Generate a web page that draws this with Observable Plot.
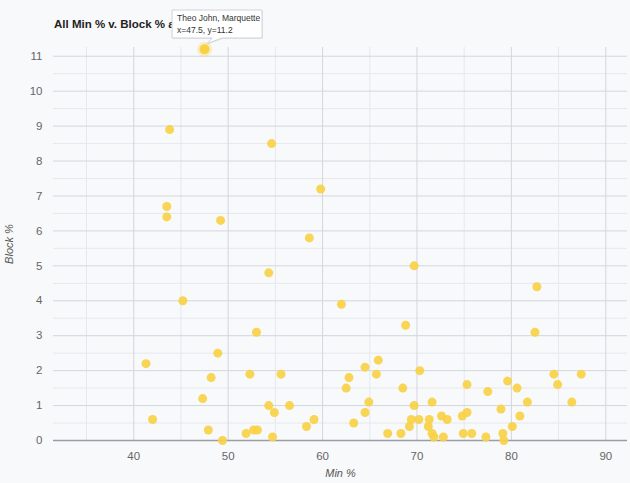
<!DOCTYPE html>
<html>
<head>
<meta charset="utf-8">
<script src="https://cdn.jsdelivr.net/npm/d3@7"></script>
<script src="https://cdn.jsdelivr.net/npm/@observablehq/plot@0.6"></script>
<style>
  html, body { margin: 0; padding: 0; background: #f8f9fb; }
  #wrap { position: relative; width: 630px; height: 483px; background: #f8f9fb; font-family: "Liberation Sans", Arial, sans-serif; }
  #title { position: absolute; left: 54px; top: 18px; font-size: 11.5px; font-weight: bold; color: #222; z-index: 0; }
  #chart { position: absolute; left: 0; top: 0; z-index: 1; }
  #chart svg { overflow: visible; }
</style>
</head>
<body>
<div id="wrap">
  <div id="title">All Min % v. Block % a</div>
  <div id="chart"></div>
</div>
<script>
// Min % values
const minPct = [
  47.5, 43.8, 54.6, 59.8, 43.5, 43.5, 49.2, 58.6, 69.7, 54.3,
  82.7, 45.2, 62.0, 68.8, 53.0, 82.5, 48.9, 65.9, 41.3, 64.5,
  70.3, 52.3, 55.6, 65.7, 84.5, 87.4, 48.2, 62.8, 79.6, 75.3,
  84.9, 62.5, 68.5, 80.6, 77.5, 47.3, 64.9, 71.6, 81.7, 86.4,
  54.3, 56.5, 69.7, 78.9, 54.9, 64.5, 75.3, 72.6, 74.8, 80.9,
  42.0, 59.1, 69.4, 70.2, 71.3, 73.2, 63.3, 58.3, 69.2, 71.2,
  80.1, 47.9, 52.7, 53.1, 51.9, 66.9, 68.3, 71.6, 74.9, 75.8,
  79.1, 54.7, 71.8, 72.8, 77.3, 49.4, 79.2
];
// Block % values
const blockPct = [
  11.2, 8.9, 8.5, 7.2, 6.7, 6.4, 6.3, 5.8, 5.0, 4.8,
  4.4, 4.0, 3.9, 3.3, 3.1, 3.1, 2.5, 2.3, 2.2, 2.1,
  2.0, 1.9, 1.9, 1.9, 1.9, 1.9, 1.8, 1.8, 1.7, 1.6,
  1.6, 1.5, 1.5, 1.5, 1.4, 1.2, 1.1, 1.1, 1.1, 1.1,
  1.0, 1.0, 1.0, 0.9, 0.8, 0.8, 0.8, 0.7, 0.7, 0.7,
  0.6, 0.6, 0.6, 0.6, 0.6, 0.6, 0.5, 0.4, 0.4, 0.4,
  0.4, 0.3, 0.3, 0.3, 0.2, 0.2, 0.2, 0.2, 0.2, 0.2,
  0.2, 0.1, 0.1, 0.1, 0.1, 0.0, 0.0
];
// Highlighted point (tooltip)
const hoverName = ["Theo John, Marquette"];
const hoverX = [47.5];
const hoverY = [11.2];

// Axis ticks
const xMajorTicks = [40, 50, 60, 70, 80, 90];
const xMinorTicks = [35, 45, 55, 65, 75, 85];
const yMajorTicks = [0, 1, 2, 3, 4, 5, 6, 7, 8, 9, 10, 11];
const yMinorTicks = [0.5, 1.5, 2.5, 3.5, 4.5, 5.5, 6.5, 7.5, 8.5, 9.5, 10.5];

const data = minPct.map((x, i) => ({x, y: blockPct[i]}));
const hover = hoverX.map((x, i) => ({x, y: hoverY[i], name: hoverName[i]}));

const gold = "#f8d146";

const chart = Plot.plot({
  width: 630,
  height: 483,
  marginTop: 47,
  marginBottom: 43,
  marginLeft: 53,
  marginRight: 3,
  style: {background: "transparent", fontFamily: "'Liberation Sans', Arial, sans-serif", fontSize: "11px", color: "#666"},
  x: {domain: [31.5, 92.3]},
  y: {domain: [0, 11.25]},
  marks: [
    Plot.gridX(xMinorTicks, {stroke: "#e6e8ee", strokeOpacity: 1}),
    Plot.gridY(yMinorTicks, {stroke: "#e6e8ee", strokeOpacity: 1}),
    Plot.gridX(xMajorTicks, {stroke: "#d3d6de", strokeOpacity: 1}),
    Plot.gridY(yMajorTicks, {stroke: "#d3d6de", strokeOpacity: 1}),
    Plot.ruleY([0], {stroke: "#9c9ea4", strokeWidth: 1.5}),
    Plot.axisX({ticks: xMajorTicks, tickSize: 0, tickPadding: 11, fontSize: 11.5, fill: "#666",
      label: "Min %", labelAnchor: "center", labelOffset: 36, labelArrow: "none"}),
    Plot.axisY({ticks: yMajorTicks, tickSize: 0, tickPadding: 11, fontSize: 11.5, fill: "#666",
      label: "Block %", labelAnchor: "center", labelOffset: 48, labelArrow: "none"}),
    Plot.dot(data, {x: "x", y: "y", r: 4.5, fill: gold, fillOpacity: 0.92, stroke: "none"}),
    Plot.dot(hover, {x: "x", y: "y", r: 7.5, fill: gold, fillOpacity: 0.3, stroke: "none"}),
    Plot.dot(hover, {x: "x", y: "y", r: 5, fill: gold, stroke: "none"})
  ]
});

// Style axis labels italic and darker
d3.select(chart).selectAll("g[aria-label='x-axis label'] text, g[aria-label='y-axis label'] text")
  .style("font-style", "italic").attr("fill", "#555").style("font-size", "11px");

document.getElementById("chart").appendChild(chart);

// Tooltip callout, positioned from the plot's scales
const sx = chart.scale("x"), sy = chart.scale("y");
const svg = d3.select(chart);
hover.forEach(h => {
  const px = sx.apply(h.x), py = sy.apply(h.y);
  const bx = px - 32, by = 10, bw = 90, bh = 28;
  const g = svg.append("g").attr("text-anchor", "start");
  const tl = px + 8, tr = px + 18, tipx = px + 3, tipy = py - 5;
  const path = `M${bx},${by} H${bx + bw} V${by + bh} H${tr} L${tipx},${tipy} L${tl},${by + bh} H${bx} Z`;
  g.append("path").attr("d", path).attr("transform", "translate(1,1)")
    .attr("fill", "rgba(0,0,0,0.06)");
  g.append("path").attr("d", path).attr("fill", "#ffffff").attr("stroke", "#cfd2d8").attr("stroke-width", 1);
  g.append("text").attr("x", bx + 5).attr("y", by + 11).attr("font-size", 8.5).attr("fill", "#333")
    .attr("text-anchor", "start")
    .attr("font-family", "'Liberation Sans', Arial, sans-serif").text(h.name);
  g.append("text").attr("x", bx + 5).attr("y", by + 23).attr("font-size", 8.5).attr("fill", "#333")
    .attr("text-anchor", "start")
    .attr("font-family", "'Liberation Sans', Arial, sans-serif").text(`x=${h.x}, y=${h.y}`);
});
</script>
</body>
</html>
